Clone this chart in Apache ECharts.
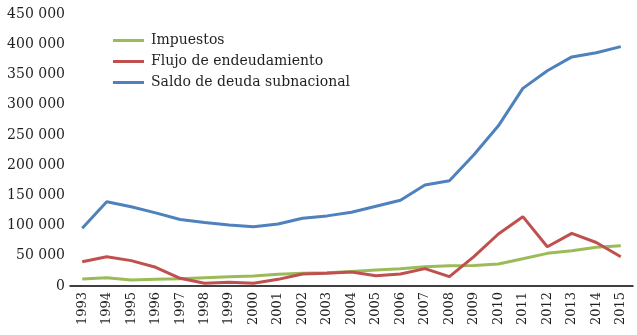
<!DOCTYPE html>
<html><head><meta charset="utf-8">
<script src="https://cdn.jsdelivr.net/npm/echarts@6/dist/echarts.min.js"></script>
<style>html,body{margin:0;padding:0;background:#fff}#c{width:637px;height:335px}</style>
</head><body><div id="c"></div>
<script>
var years = ['1993','1994','1995','1996','1997','1998','1999','2000','2001','2002','2003','2004','2005','2006','2007','2008','2009','2010','2011','2012','2013','2014','2015'];
var impuestos = [11600,13800,10000,11000,12000,13800,15500,16500,19300,21000,22000,24000,26500,28700,32000,33600,34000,36400,45000,54000,58400,64000,66700];
var flujo = [40000,48500,42000,31000,12700,4400,6000,4400,11000,20000,21000,23000,17000,20000,28700,15500,48500,86000,114700,65000,87000,72000,48500];
var saldo = [95500,139500,131000,121000,110000,105000,101000,98000,102600,112000,116000,122000,132000,142000,167000,174000,217000,265000,327000,356000,379000,386000,396000];
var yTicks = [0,50000,100000,150000,200000,250000,300000,350000,400000,450000];
var font = 'DejaVu Serif';
var chart = echarts.init(document.getElementById('c'), null, {renderer:'canvas'});
function fmt(v){ if(v===0) return '0'; var s=String(v); return s.replace(/\B(?=(\d{3})+(?!\d))/g,' '); }
chart.setOption({
  animation:false,
  textStyle:{fontFamily:font},
  grid:{left:70,right:4,top:14,bottom:49,containLabel:false},
  legend:{orient:'vertical',left:108,top:28,itemWidth:31,itemHeight:3,itemGap:6,icon:'rect',
    textStyle:{fontFamily:font,fontSize:14,lineHeight:15,color:'#231f20',padding:[0,0,0,2]},
    data:['Impuestos','Flujo de endeudamiento','Saldo de deuda subnacional']},
  xAxis:{type:'category',data:years,boundaryGap:true,
    axisLine:{lineStyle:{color:'#000',width:1.5}},axisTick:{show:false},
    axisLabel:{rotate:90,margin:6,fontFamily:font,fontSize:13,color:'#231f20',interval:0}},
  yAxis:{type:'value',min:yTicks[0],max:yTicks[yTicks.length-1],interval:50000,
    splitLine:{show:false},axisLine:{show:false},axisTick:{show:false},
    axisLabel:{margin:5,fontFamily:font,fontSize:14,color:'#231f20',formatter:fmt}},
  series:[
    {name:'Impuestos',type:'line',data:impuestos,symbol:'none',lineStyle:{width:3,color:'#9bbb59'},itemStyle:{color:'#9bbb59'},z:3},
    {name:'Flujo de endeudamiento',type:'line',data:flujo,symbol:'none',lineStyle:{width:3,color:'#c0504d'},itemStyle:{color:'#c0504d'},z:4},
    {name:'Saldo de deuda subnacional',type:'line',data:saldo,symbol:'none',lineStyle:{width:3,color:'#4f81bd'},itemStyle:{color:'#4f81bd'},z:5}
  ]
});
</script></body></html>
